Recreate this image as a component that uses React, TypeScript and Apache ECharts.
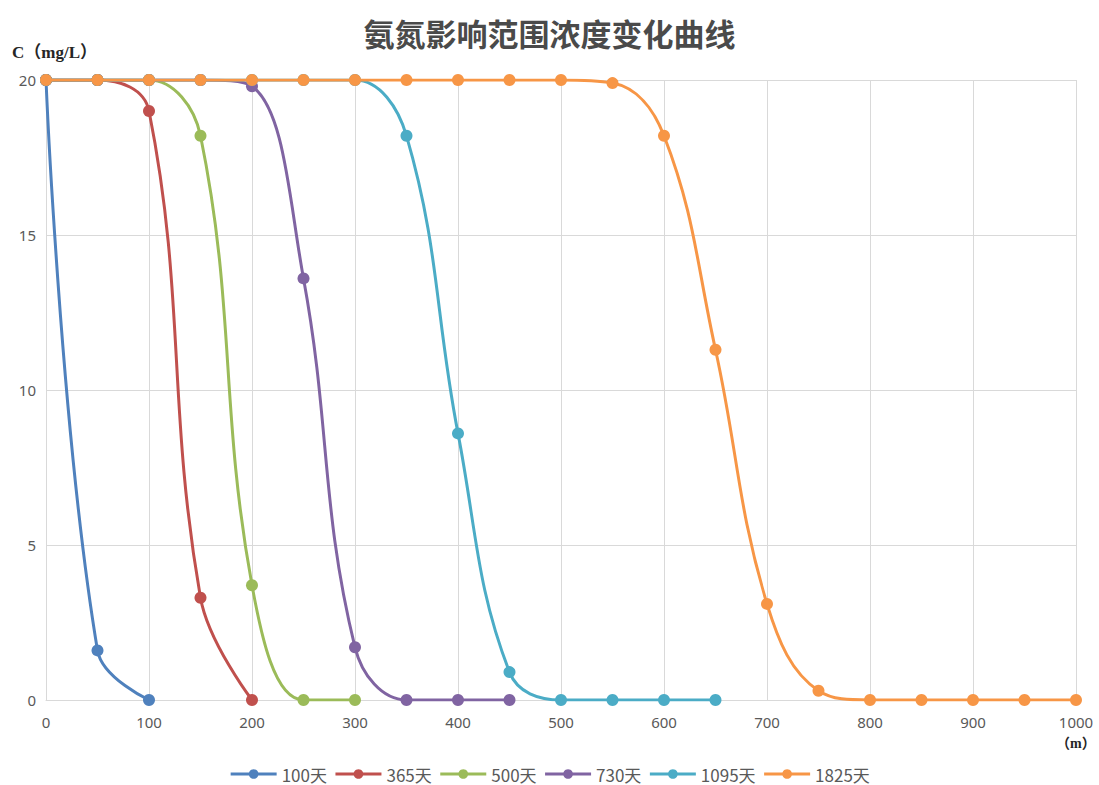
import React, { useEffect, useRef } from "react";
import * as echarts from "echarts";

const seriesNames = ["100天", "365天", "500天", "730天", "1095天", "1825天"];
const colors = ["#4F81BD", "#C0504D", "#9BBB59", "#8064A2", "#4BACC6", "#F79646"];

const d100: [number, number][] = [[0, 20], [50, 1.6], [100, 0]];
const d365: [number, number][] = [[0, 20], [50, 20], [100, 19.0], [150, 3.3], [200, 0]];
const d500: [number, number][] = [[0, 20], [50, 20], [100, 20], [150, 18.2], [200, 3.7], [250, 0], [300, 0]];
const d730: [number, number][] = [[0, 20], [50, 20], [100, 20], [150, 20], [200, 19.8], [250, 13.6], [300, 1.7], [350, 0], [400, 0], [450, 0]];
const d1095: [number, number][] = [[0, 20], [50, 20], [100, 20], [150, 20], [200, 20], [250, 20], [300, 20], [350, 18.2], [400, 8.6], [450, 0.9], [500, 0], [550, 0], [600, 0], [650, 0]];
const d1825: [number, number][] = [[0, 20], [50, 20], [100, 20], [150, 20], [200, 20], [250, 20], [300, 20], [350, 20], [400, 20], [450, 20], [500, 20], [550, 19.9], [600, 18.2], [650, 11.3], [700, 3.1], [750, 0.3], [800, 0], [850, 0], [900, 0], [950, 0], [1000, 0]];

const allData = [d100, d365, d500, d730, d1095, d1825];

const titleText = "氨氮影响范围浓度变化曲线";
const yName = "C（mg/L）";
const xName = "（m）";

export default function App() {
  const ref = useRef<HTMLDivElement>(null);
  useEffect(() => {
    if (!ref.current) return;
    const chart = echarts.init(ref.current, undefined, { renderer: "svg" });
    chart.setOption({
      animation: false,
      backgroundColor: "#ffffff",
      title: {
        text: titleText,
        left: "center",
        top: 12,
        textStyle: { fontFamily: "Noto Sans CJK SC", fontWeight: "bold", fontSize: 31, color: "#4a4a4a" },
      },
      graphic: [
        { type: "text", left: 12, top: 44, style: { text: yName, font: "bold 17px 'Liberation Serif', 'Noto Sans CJK SC'", fill: "#262626" } },
        { type: "text", left: 1056, top: 736, style: { text: xName, font: "bold 14px 'Liberation Serif', 'Noto Sans CJK SC'", fill: "#262626" } },
      ],
      legend: {
        top: 759,
        left: "center",
        itemWidth: 46,
        itemHeight: 12,
        itemGap: 7,
        lineStyle: { width: 3 },
        textStyle: { fontSize: 17, color: "#595959", fontFamily: "Noto Sans CJK SC", lineHeight: 20 },
        data: seriesNames,
      },
      grid: { left: 46, right: 23, top: 80, bottom: 85 },
      xAxis: {
        type: "value",
        min: 0,
        max: 1000,
        interval: 100,
        axisLine: { show: true, lineStyle: { color: "#D9D9D9" } },
        axisTick: { show: false },
        axisLabel: { color: "#595959", fontSize: 15, margin: 14, fontFamily: "Noto Sans", formatter: (v: number) => String(v) },
        splitLine: { show: true, lineStyle: { color: "#D9D9D9" } },
      },
      yAxis: {
        type: "value",
        min: 0,
        max: 20,
        interval: 5,
        axisLine: { show: false },
        axisTick: { show: false },
        axisLabel: { color: "#595959", fontSize: 15, margin: 10, fontFamily: "Noto Sans" },
        splitLine: { show: true, lineStyle: { color: "#D9D9D9" } },
      },
      series: seriesNames.map((name, i) => ({
        name,
        type: "line",
        data: allData[i],
        smooth: 0.4,
        symbol: "circle",
        symbolSize: 12,
        color: colors[i],
        lineStyle: { width: 3, color: colors[i] },
        itemStyle: { color: colors[i] },
        z: 2 + i,
      })),
    });
    return () => chart.dispose();
  }, []);
  return <div ref={ref} style={{ position: "absolute", left: 0, top: 0, width: 1099, height: 785 }} />;
}
